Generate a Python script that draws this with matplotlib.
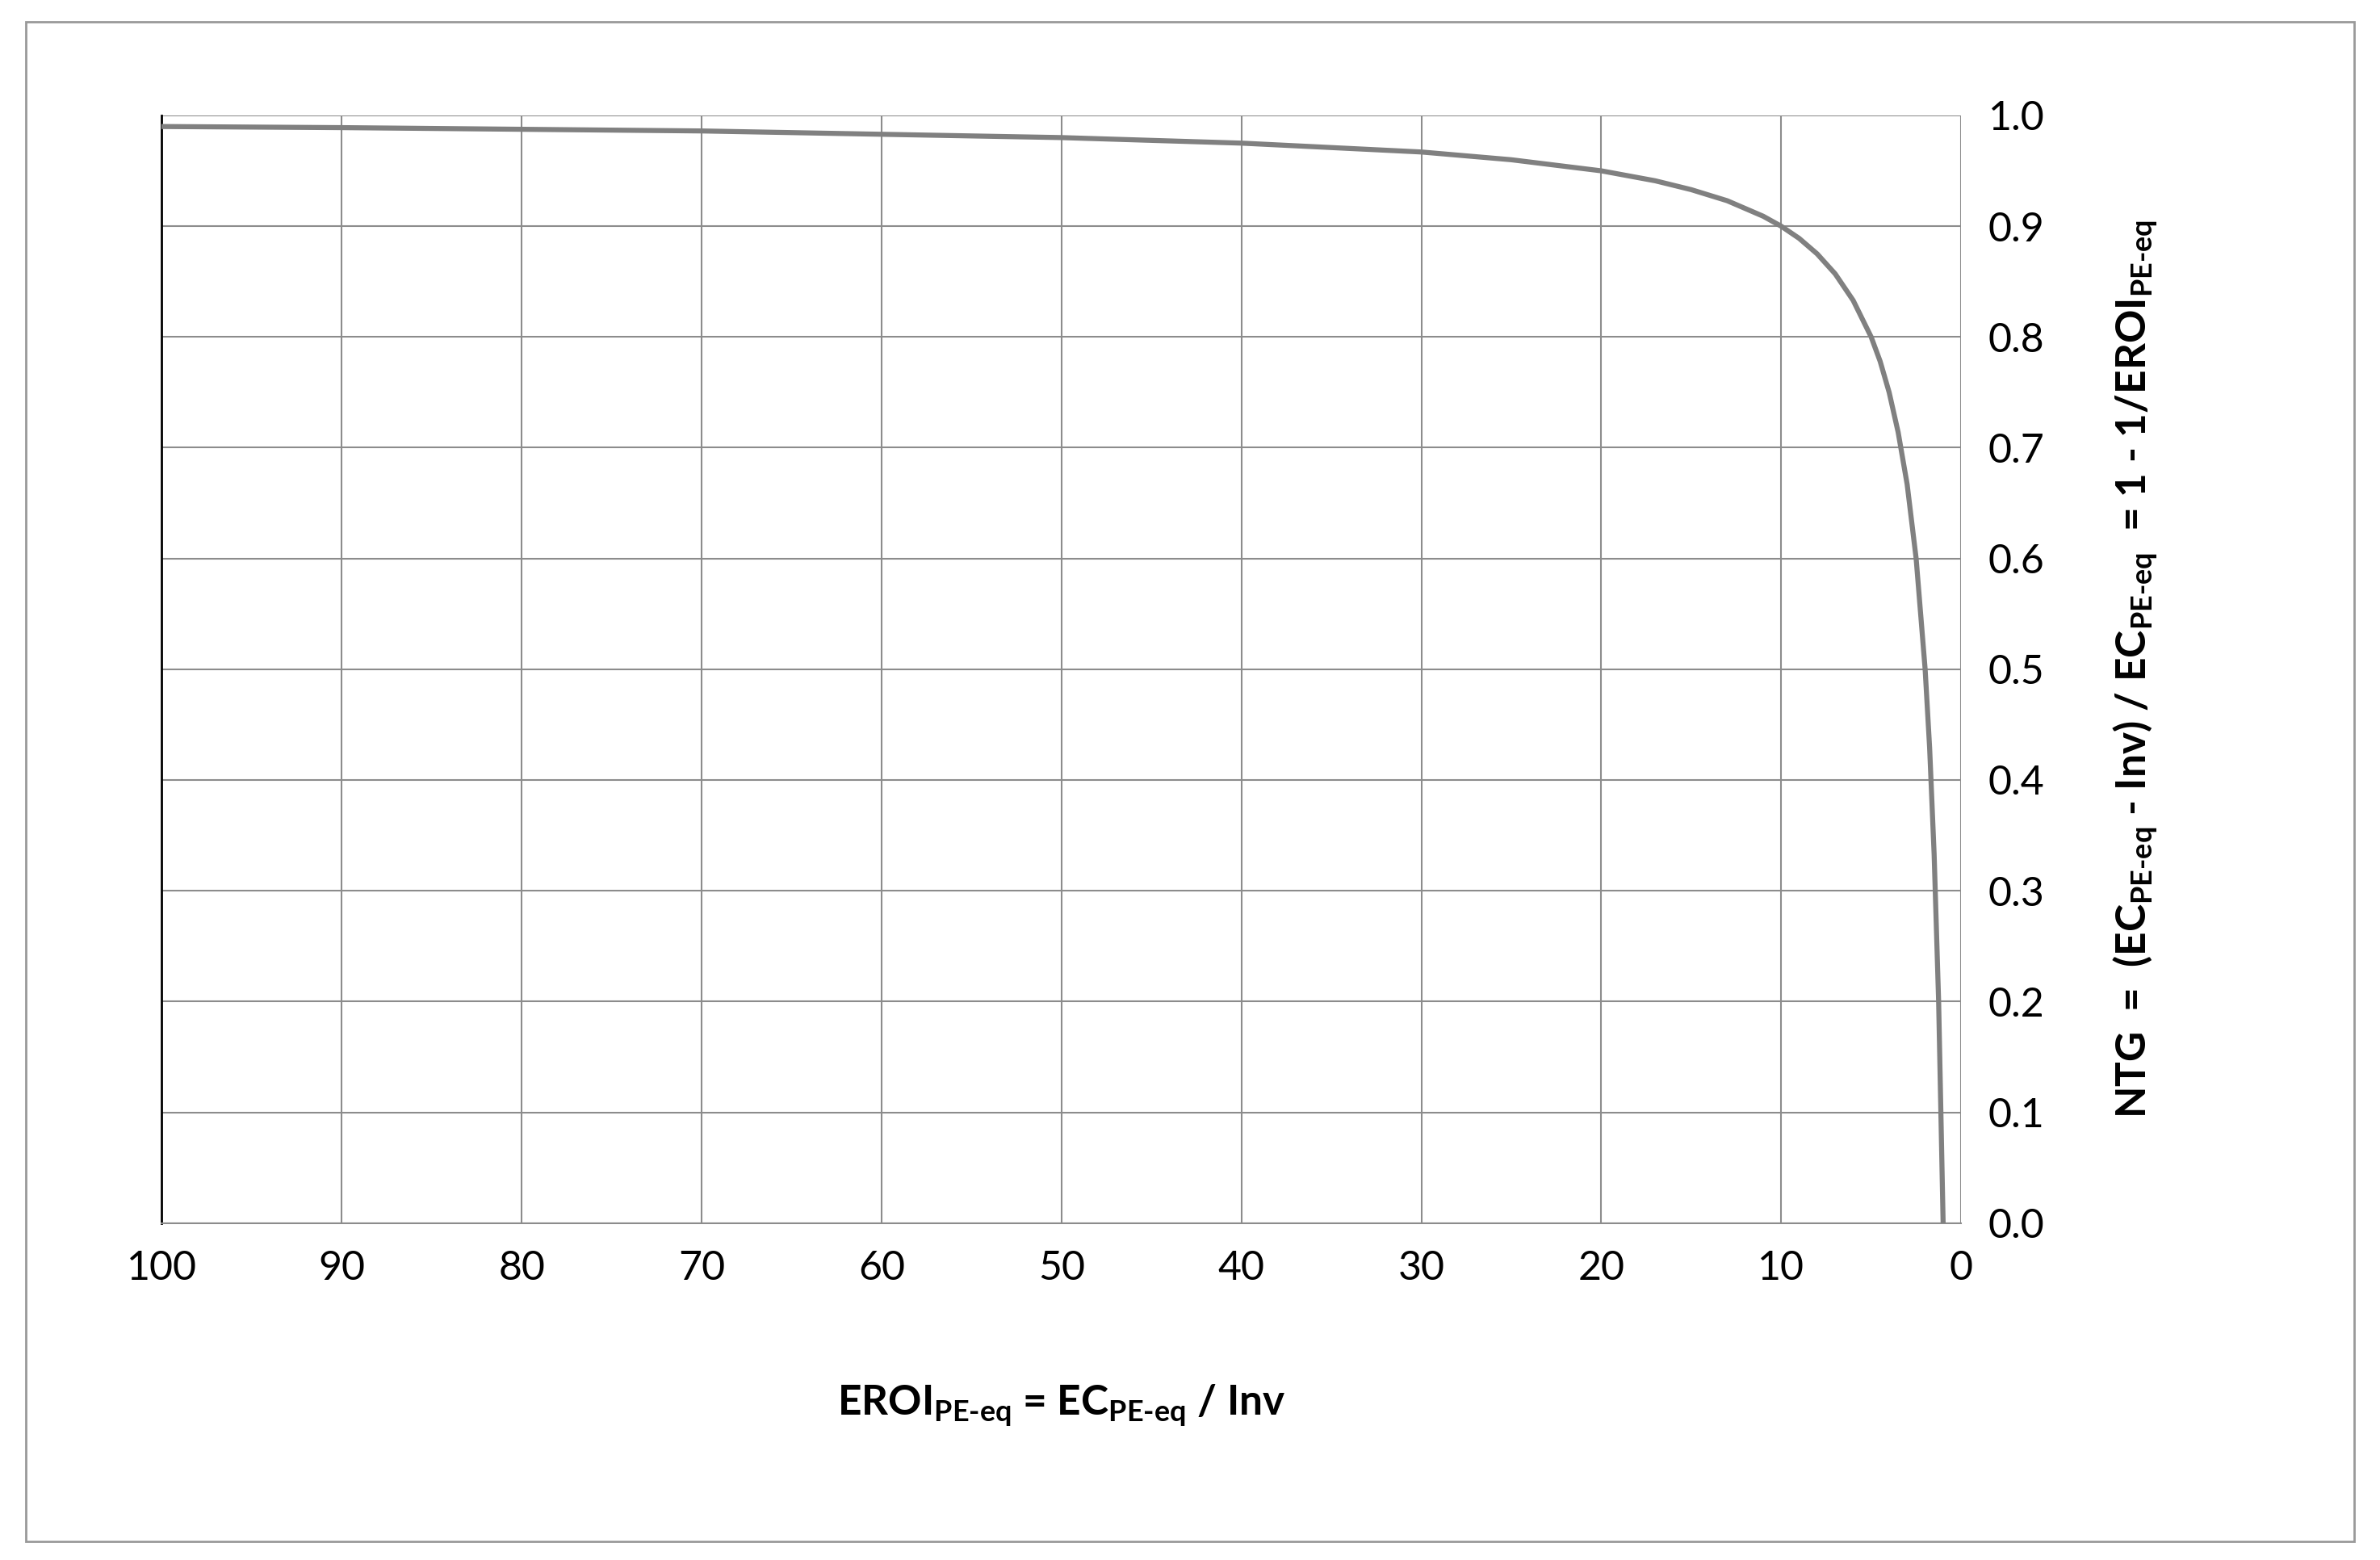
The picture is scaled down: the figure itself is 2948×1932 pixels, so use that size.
import matplotlib
matplotlib.use("Agg")
import matplotlib.pyplot as plt
from matplotlib.patches import Rectangle

plt.rcParams["font.family"] = ["Lato", "DejaVu Sans"]
plt.rcParams["mathtext.fontset"] = "custom"
plt.rcParams["mathtext.bf"] = "Lato:bold"
plt.rcParams["mathtext.rm"] = "Lato:bold"
plt.rcParams["mathtext.default"] = "bf"

# values
eroi = [100, 90, 80, 70, 60, 50, 40, 35, 30, 25, 20, 17, 15, 13, 11, 10, 9, 8, 7,
        6, 5, 4.5, 4, 3.5, 3, 2.5, 2, 1.75, 1.5, 1.25, 1]
ntg = [0.99, 0.989, 0.9875, 0.986, 0.983, 0.98, 0.975, 0.971, 0.967, 0.96, 0.95,
       0.941, 0.933, 0.923, 0.909, 0.9, 0.889, 0.875, 0.857, 0.833, 0.8, 0.778,
       0.75, 0.714, 0.667, 0.6, 0.5, 0.429, 0.333, 0.2, 0.0]
xticks = [100, 90, 80, 70, 60, 50, 40, 30, 20, 10, 0]
yticks = [0.0, 0.1, 0.2, 0.3, 0.4, 0.5, 0.6, 0.7, 0.8, 0.9, 1.0]

fig = plt.figure(figsize=(29.48, 19.32), dpi=100)
fig.patches.append(Rectangle((0.011, 0.012), 0.978, 0.974, transform=fig.transFigure,
                             fill=False, edgecolor="#999999", linewidth=2))
ax = fig.add_axes([0.068, 0.216, 0.756, 0.71])

ax.plot(eroi, ntg, color="#808080", linewidth=4.5, zorder=3)
ax.set_xlim(100, 0)
ax.set_ylim(0, 1)
ax.set_xticks(xticks)
ax.set_yticks(yticks)
ax.set_yticklabels([f"{v:.1f}" for v in yticks])
ax.yaxis.tick_right()
ax.yaxis.set_label_position("right")
ax.grid(True, color="#8c8c8c", linewidth=1.5)
ax.tick_params(labelsize=36, length=0, pad=24)
for s in ["top", "right"]:
    ax.spines[s].set_visible(False)
ax.spines["left"].set_color("black")
ax.spines["left"].set_linewidth(2)
ax.spines["bottom"].set_color("#8c8c8c")
ax.spines["bottom"].set_linewidth(1.5)

ax.set_xlabel(r"EROI$_{PE‐eq}$ = EC$_{PE‐eq}$ / Inv", fontsize=37,
              fontweight="bold", labelpad=85)
ax.set_ylabel(r"NTG  =  (EC$_{PE‐eq}$ ‐ Inv) / EC$_{PE‐eq}$  = 1 ‐ 1/EROI$_{PE‐eq}$",
              fontsize=37, fontweight="bold", labelpad=60)

fig.savefig("out.png", dpi=100)
